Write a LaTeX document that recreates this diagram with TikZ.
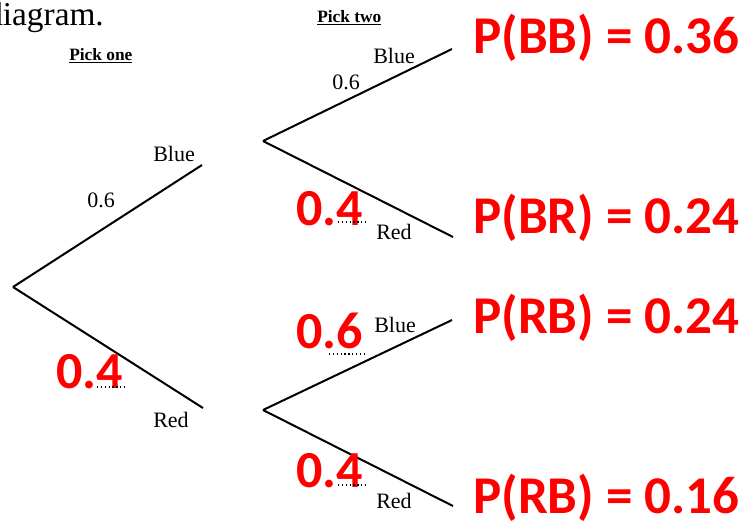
\documentclass[tikz,border=0pt]{standalone}
\usepackage{fontspec}
\setmainfont{Liberation Serif}
\newfontfamily\calfont{Carlito}
\usetikzlibrary{calc}
\definecolor{probred}{RGB}{255,0,0}

\begin{document}
\begin{tikzpicture}[x=0.75pt,y=-0.75pt,
    branch/.style={line width=1.5pt},
    lbl/.style={anchor=base west,inner sep=0pt,font=\fontsize{16.5}{18}\selectfont},
    head/.style={anchor=base west,inner sep=0pt,font=\fontsize{13}{15}\selectfont\bfseries},
    prob/.style={anchor=base west,inner sep=0pt,text=probred,font=\fontsize{39}{41}\selectfont\calfont\bfseries},
    res/.style={anchor=base west,inner sep=0pt,text=probred,font=\fontsize{39.8}{42}\selectfont\calfont\bfseries},
    spell/.style={dotted,line width=0.9pt}]
        \useasboundingbox (0,0) rectangle (742,526);

        % Text above the tree
        \node[anchor=base west,inner sep=0pt,font=\fontsize{25}{28}\selectfont] (title) at (-14,25) {diagram.};
        \node[head] (pickone) at (69,60) {\underline{Pick one}};
        \node[head] (picktwo) at (317,22) {\underline{Pick two}};

        % Branch points
        \coordinate (root) at (13,287);
        \coordinate (b1) at (202,165);
        \coordinate (r1) at (203,408);
        \coordinate (b1s) at (263,141);
        \coordinate (r1s) at (263,410);
        \coordinate (bb) at (452,49);
        \coordinate (br) at (453,237);
        \coordinate (rb) at (452,320);
        \coordinate (rr) at (453,506);

        % First pick
        \draw[branch] (root) -- (b1);
        \draw[branch] (root) -- (r1);
        \node[lbl] (blue1) at (153,161) {Blue};
        \node[lbl] (p1b) at (87,207) {0.6};
        \node[lbl] (red1) at (153,427) {Red};

        % Second pick after blue
        \draw[branch] (b1s) -- (bb);
        \draw[branch] (b1s) -- (br);
        \node[lbl] (blue2) at (373,63) {Blue};
        \node[lbl] (p2bb) at (332,89) {0.6};
        \node[lbl] (red2) at (376,239) {Red};

        % Second pick after red
        \draw[branch] (r1s) -- (rb);
        \draw[branch] (r1s) -- (rr);
        \node[lbl] (blue3) at (374,332) {Blue};
        \node[lbl] (red3) at (376,508) {Red};

        % Handwritten probabilities
        \node[prob] (p1r) at (56,388) {0.4};
        \node[prob] (p2br) at (296,225) {0.4};
        \node[prob] (p2rb) at (296,348) {0.6};
        \node[prob] (p2rr) at (296,487) {0.4};
        \draw[spell] ($(p1r.base west)+(41,-1)$) -- ($(p1r.base west)+(71,-1)$);
        \draw[spell] ($(p2br.base west)+(42,-3)$) -- ($(p2br.base west)+(71,-3)$);
        \draw[spell] ($(p2rb.base west)+(33,6)$) -- ($(p2rb.base west)+(71,6)$);
        \draw[spell] ($(p2rr.base west)+(42,-2)$) -- ($(p2rr.base west)+(71,-2)$);

        % Outcomes
        \node[res] (obb) at (473,53) {P(BB) = 0.36};
        \node[res] (obr) at (473,233) {P(BR) = 0.24};
        \node[res] (orb) at (473,333) {P(RB) = 0.24};
        \node[res] (orr) at (473,513) {P(RB) = 0.16};
    \end{tikzpicture}
\end{document}
